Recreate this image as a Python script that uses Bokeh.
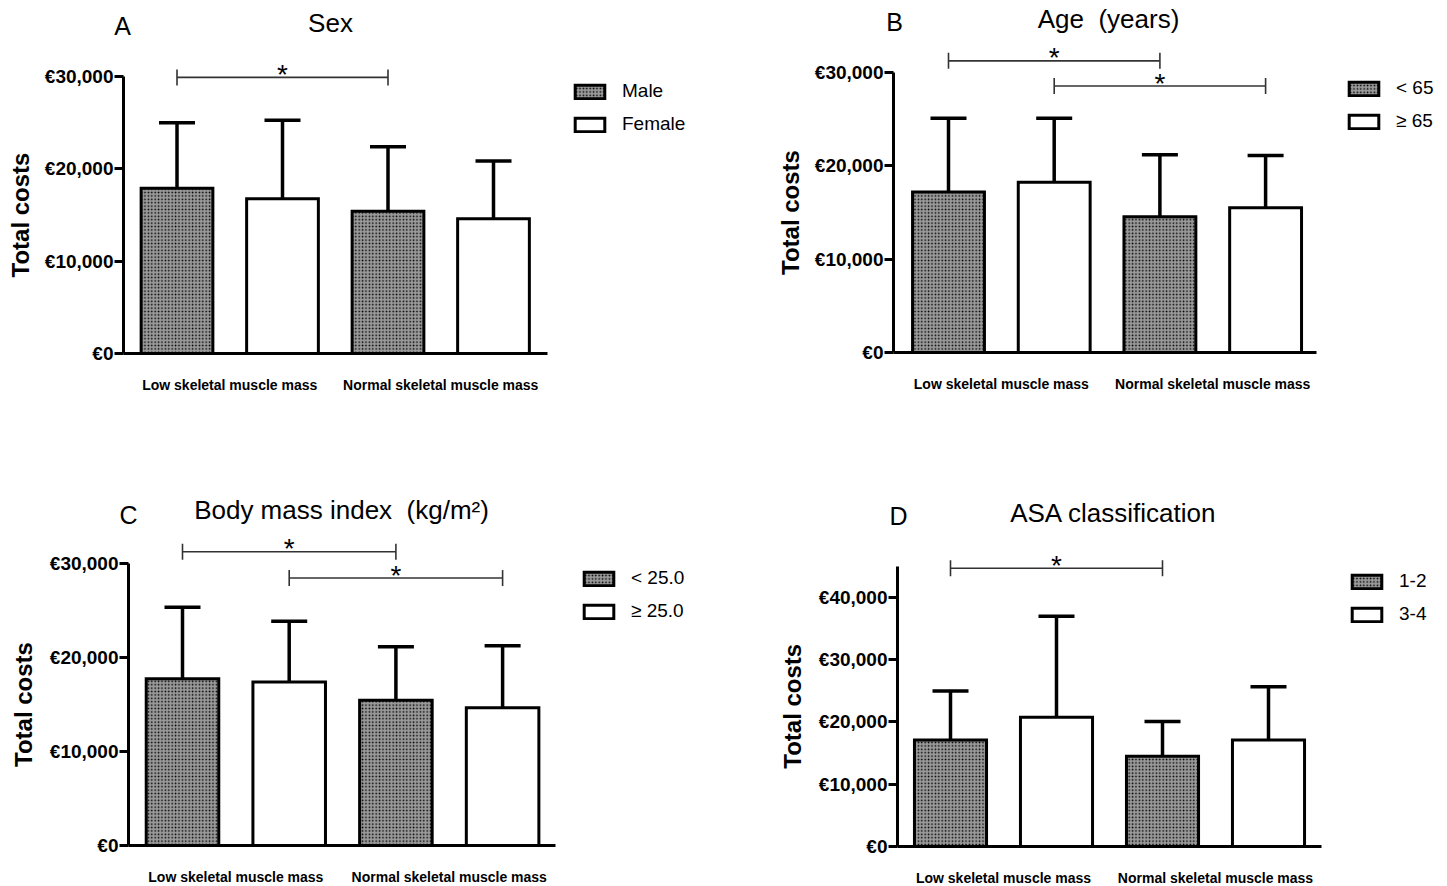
import math
from bokeh.plotting import figure
from bokeh.models import (ColumnDataSource, FixedTicker, CustomJSTickFormatter, Label,
                          Legend, LegendItem, Range1d, Whisker, TeeHead)
from bokeh.layouts import column, row
from bokeh.embed import file_html
from bokeh.resources import INLINE
from bokeh.core.properties import value

# ------------------------------------------------------------------ data
groups = ["Low skeletal muscle mass", "Normal skeletal muscle mass"]

a_letter, a_title = "A", "Sex"
a_series = ["Male", "Female"]
a_hatched_mean = [17900, 15400]
a_hatched_upper = [25000, 22400]
a_open_mean = [16750, 14600]
a_open_upper = [25250, 20850]
a_sig_pairs = [(1, 3)]
a_sig_heights = [29900]
a_yticks = [0, 10000, 20000, 30000]

b_letter, b_title = "B", "Age\u00a0 (years)"
b_series = ["< 65", "≥ 65"]
b_hatched_mean = [17200, 14550]
b_hatched_upper = [25100, 21200]
b_open_mean = [18250, 15500]
b_open_upper = [25100, 21100]
b_sig_pairs = [(1, 3), (2, 4)]
b_sig_heights = [31250, 28550]
b_yticks = [0, 10000, 20000, 30000]

c_letter, c_title = "C", "Body mass index\u00a0 (kg/m²)"
c_series = ["< 25.0", "≥ 25.0"]
c_hatched_mean = [17750, 15450]
c_hatched_upper = [25350, 21150]
c_open_mean = [17400, 14650]
c_open_upper = [23850, 21250]
c_sig_pairs = [(1, 3), (2, 4)]
c_sig_heights = [31250, 28450]
c_yticks = [0, 10000, 20000, 30000]

d_letter, d_title = "D", "ASA classification"
d_series = ["1-2", "3-4"]
d_hatched_mean = [17100, 14500]
d_hatched_upper = [24950, 20050]
d_open_mean = [20750, 17100]
d_open_upper = [36950, 25650]
d_sig_pairs = [(1, 3)]
d_sig_heights = [44650]
d_yticks = [0, 10000, 20000, 30000, 40000]

# ------------------------------------------------------------------ layout (page pixels)
FONT = "Liberation Sans"
LAY = {
    "A": dict(ox=0, oy=0, W=770, H=448, yax=123, xend=547, c1=176.5, sp=105.5, zero=353,
              ref_py=76, ref_val=30000, bound=30000, letter=(122, 25.5), title=(330, 22.5),
              ylab_x=20, leg=(571, 91)),
    "B": dict(ox=770, oy=0, W=676, H=448, yax=893, xend=1316, c1=948, sp=105.7, zero=352,
              ref_py=72, ref_val=30000, bound=30000, letter=(894, 21.5), title=(1108, 18),
              ylab_x=790, leg=(1345, 88)),
    "C": dict(ox=0, oy=448, W=770, H=437, yax=128, xend=555, c1=182, sp=106.7, zero=845,
              ref_py=563, ref_val=30000, bound=30000, letter=(128, 514.5), title=(341, 509),
              ylab_x=23, leg=(580, 578)),
    "D": dict(ox=770, oy=448, W=676, H=437, yax=897, xend=1321, c1=950, sp=106, zero=846,
              ref_py=596.7, ref_val=40000, bound=45000, letter=(898, 515.5), title=(1113, 512.5),
              ylab_x=792, leg=(1348, 581)),
}

BAR_W = 0.68
HATCH = dict(fill_color="#9a9a9a", hatch_pattern="dot", hatch_color="black", hatch_scale=3.4)


def make_panel(key, letter, title, series, hm, hu, om, ou, pairs, heights, yticks):
    L = LAY[key]
    ppu = (L["zero"] - L["ref_py"]) / L["ref_val"]   # pixels per value unit

    def dx(px):
        return 1 + (px - L["c1"]) / L["sp"]

    def dy(py):
        return (L["zero"] - py) / ppu

    p = figure(width=L["W"], height=L["H"],
               x_range=Range1d(dx(L["ox"]), dx(L["ox"] + L["W"])),
               y_range=Range1d(dy(L["oy"] + L["H"]), dy(L["oy"])),
               min_border_left=0, min_border_right=0, min_border_top=0, min_border_bottom=0,
               output_backend="svg", toolbar_location=None, tools="")
    p.outline_line_color = None
    p.xgrid.visible = False
    p.ygrid.visible = False
    p.background_fill_color = "white"
    p.border_fill_color = "white"

    xh = [1 + 2 * g for g in range(len(groups))]
    xo = [2 + 2 * g for g in range(len(groups))]
    src_h = ColumnDataSource(dict(x=xh, mean=hm, upper=hu))
    src_o = ColumnDataSource(dict(x=xo, mean=om, upper=ou))

    r_h = p.vbar(x="x", top="mean", bottom=0, width=BAR_W, source=src_h, line_color="black",
                 line_width=3, line_join="miter", **HATCH)
    r_o = p.vbar(x="x", top="mean", bottom=0, width=BAR_W, source=src_o, fill_color="white",
                 line_color="black", line_width=3, line_join="miter")

    for src in (src_h, src_o):
        w = Whisker(base="x", lower="mean", upper="upper", source=src, dimension="height",
                    line_width=3.5, line_color="black", lower_head=None,
                    upper_head=TeeHead(size=36, line_width=3.5, line_color="black"))
        p.add_layout(w)

    # significance brackets
    up, dn = 8 / ppu, 8 / ppu
    bx0, bx1, by = [], [], []
    tx0, ty0, ty1 = [], [], []
    sx, sy = [], []
    for (i, j), h in zip(pairs, heights):
        bx0.append(i); bx1.append(j); by.append(h)
        tx0 += [i, j]; ty0 += [h + up, h + up]; ty1 += [h - dn, h - dn]
        sx.append((i + j) / 2); sy.append(h + 3 / ppu)
    p.segment(x0=bx0, y0=by, x1=bx1, y1=by, line_width=1.6, line_color="#333333")
    p.segment(x0=tx0, y0=ty0, x1=tx0, y1=ty1, line_width=1.6, line_color="#333333")
    p.text(x=sx, y=sy, text=["*"] * len(sx), text_align="center", text_baseline="alphabetic",
           text_font=value(FONT), text_font_size="28px", text_color="black")

    # axes (drawn at fixed data locations so that the frame covers the whole figure)
    x_lo, x_hi = dx(L["yax"]), dx(L["xend"])
    p.xaxis.fixed_location = 0
    p.xaxis.bounds = (x_lo, x_hi)
    p.xaxis.ticker = FixedTicker(ticks=[1.5 + 2 * g for g in range(len(groups))])
    p.xaxis.formatter = CustomJSTickFormatter(args=dict(labels=groups),
                                              code="return labels[Math.round((tick - 1.5) / 2)];")
    p.xaxis.major_tick_line_color = None
    p.xaxis.minor_tick_line_color = None
    p.xaxis.axis_line_width = 3
    p.xaxis.axis_line_color = "black"
    p.xaxis.major_label_text_font = FONT
    p.xaxis.major_label_text_font_style = "bold"
    p.xaxis.major_label_text_font_size = "14px"
    p.xaxis.major_label_text_color = "black"
    p.xaxis.major_label_standoff = 17

    p.yaxis.fixed_location = x_lo
    p.yaxis.ticker = FixedTicker(ticks=yticks)
    p.yaxis.formatter = CustomJSTickFormatter(
        code="return '\u20ac' + Math.round(tick).toLocaleString('en-US');")
    p.yaxis.bounds = (0, L["bound"])
    p.yaxis.axis_line_width = 3
    p.yaxis.axis_line_color = "black"
    p.yaxis.major_tick_out = 9
    p.yaxis.major_tick_in = 0
    p.yaxis.major_tick_line_width = 3
    p.yaxis.major_tick_line_color = "black"
    p.yaxis.minor_tick_line_color = None
    p.yaxis.major_label_standoff = 1
    p.yaxis.major_label_text_font = FONT
    p.yaxis.major_label_text_font_style = "bold"
    p.yaxis.major_label_text_font_size = "19px"
    p.yaxis.major_label_text_color = "black"

    # texts
    lx, ly = L["letter"]
    p.add_layout(Label(x=dx(lx), y=dy(ly), text=letter, text_align="center",
                       text_baseline="alphabetic", text_font=FONT, text_font_size="25px",
                       text_color="black"))
    tx, ty = L["title"]
    p.add_layout(Label(x=dx(tx), y=dy(ty), text=title, text_align="center",
                       text_baseline="alphabetic", text_font=FONT, text_font_size="26px",
                       text_color="black"))
    p.add_layout(Label(x=dx(L["ylab_x"]), y=L["bound"] / 2,
                       text="Total costs", angle=math.pi / 2, text_align="center",
                       text_baseline="middle", text_font=FONT, text_font_style="bold",
                       text_font_size="24px", text_color="black"))

    # legend
    item_h, spacing = 22, 11
    leg_h = 2 * item_h + spacing
    gx, gy = L["leg"]
    vx = gx - L["ox"]
    vy = (L["oy"] + L["H"]) - (gy - item_h / 2) - leg_h
    legend = Legend(items=[LegendItem(label=series[0], renderers=[r_h]),
                           LegendItem(label=series[1], renderers=[r_o])],
                    location=(vx, vy), orientation="vertical", glyph_width=37, glyph_height=17,
                    label_height=item_h, spacing=spacing, padding=0, margin=0,
                    border_line_color=None, background_fill_alpha=0, label_standoff=14,
                    label_text_font=FONT, label_text_font_size="19px",
                    label_text_color="black")
    p.add_layout(legend)
    return p


pA = make_panel("A", a_letter, a_title, a_series, a_hatched_mean, a_hatched_upper, a_open_mean,
                a_open_upper, a_sig_pairs, a_sig_heights, a_yticks)
pB = make_panel("B", b_letter, b_title, b_series, b_hatched_mean, b_hatched_upper, b_open_mean,
                b_open_upper, b_sig_pairs, b_sig_heights, b_yticks)
pC = make_panel("C", c_letter, c_title, c_series, c_hatched_mean, c_hatched_upper, c_open_mean,
                c_open_upper, c_sig_pairs, c_sig_heights, c_yticks)
pD = make_panel("D", d_letter, d_title, d_series, d_hatched_mean, d_hatched_upper, d_open_mean,
                d_open_upper, d_sig_pairs, d_sig_heights, d_yticks)

layout = column(row(pA, pB), row(pC, pD))
open("out.html", "w").write(file_html(layout, INLINE))
